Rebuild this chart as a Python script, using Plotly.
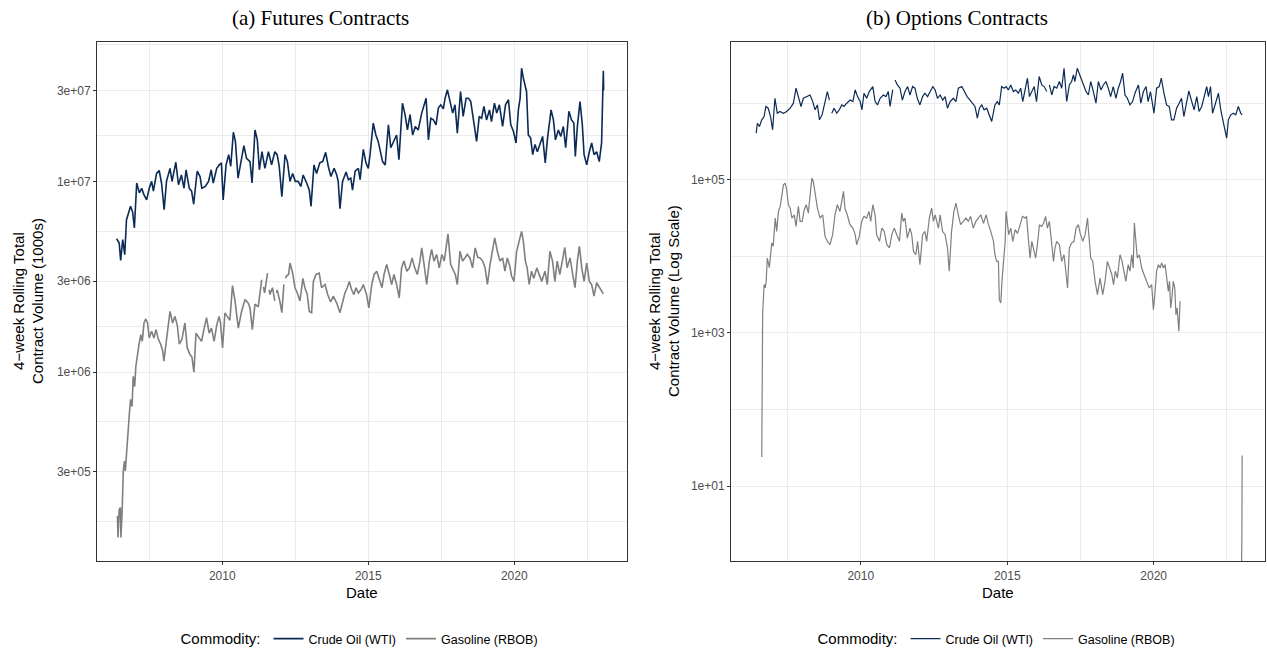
import math
import plotly.graph_objects as go

# ---------------- data: 4-week rolling contract volume ----------------
# (a) futures, crude oil (WTI)
fut_crude_year = [
    2006.38, 2006.47, 2006.52, 2006.59, 2006.66, 2006.72, 2006.86, 2006.93, 2006.99, 2007.07,
    2007.16, 2007.24, 2007.32, 2007.41, 2007.50, 2007.58, 2007.64, 2007.75, 2007.84, 2007.92,
    2008.01, 2008.09, 2008.21, 2008.28, 2008.41, 2008.50, 2008.60, 2008.69, 2008.76, 2008.87,
    2008.95, 2009.02, 2009.14, 2009.24, 2009.30, 2009.42, 2009.53, 2009.62, 2009.69, 2009.81,
    2009.90, 2009.97, 2010.03, 2010.13, 2010.22, 2010.29, 2010.38, 2010.45, 2010.54, 2010.63,
    2010.74, 2010.83, 2010.95, 2011.02, 2011.12, 2011.20, 2011.27, 2011.36, 2011.46, 2011.58,
    2011.69, 2011.80, 2011.88, 2011.95, 2012.04, 2012.15, 2012.23, 2012.32, 2012.41, 2012.50,
    2012.60, 2012.69, 2012.77, 2012.89, 2012.98, 2013.04, 2013.14, 2013.23, 2013.34, 2013.44,
    2013.54, 2013.63, 2013.72, 2013.83, 2013.92, 2013.97, 2014.03, 2014.12, 2014.24, 2014.32,
    2014.40, 2014.46, 2014.55, 2014.66, 2014.72, 2014.83, 2014.92, 2015.00, 2015.06, 2015.17,
    2015.26, 2015.34, 2015.42, 2015.49, 2015.58, 2015.69, 2015.77, 2015.86, 2015.97, 2016.05,
    2016.17, 2016.26, 2016.34, 2016.43, 2016.52, 2016.61, 2016.71, 2016.83, 2016.98, 2017.06,
    2017.14, 2017.23, 2017.32, 2017.40, 2017.48, 2017.57, 2017.63, 2017.71, 2017.80, 2017.89,
    2017.97, 2018.05, 2018.16, 2018.25, 2018.35, 2018.43, 2018.51, 2018.60, 2018.71, 2018.80,
    2018.88, 2018.96, 2019.05, 2019.15, 2019.22, 2019.32, 2019.40, 2019.49, 2019.60, 2019.70,
    2019.80, 2019.88, 2019.97, 2020.06, 2020.14, 2020.20, 2020.25, 2020.31, 2020.37, 2020.42,
    2020.48, 2020.56, 2020.63, 2020.71, 2020.79, 2020.88, 2020.97, 2021.06, 2021.14, 2021.26,
    2021.34, 2021.41, 2021.51, 2021.59, 2021.68, 2021.76, 2021.87, 2021.96, 2022.04, 2022.09,
    2022.16, 2022.25, 2022.33, 2022.39, 2022.48, 2022.57, 2022.65, 2022.73, 2022.82, 2022.91,
    2022.99, 2023.03, 2023.05, 2023.06,
]
fut_crude_vol = [
    5.0e6, 4.75e6, 3.85e6, 4.95e6, 4.13e6, 6.3e6, 7.4e6, 6.9e6, 5.7e6, 9.8e6,
    8.7e6, 9.2e6, 8.5e6, 8.0e6, 9.2e6, 1.0e7, 8.9e6, 1.1e7, 1.14e7, 9.8e6,
    7.1e6, 1.0e7, 1.17e7, 1.0e7, 1.26e7, 9.6e6, 1.08e7, 9.2e6, 1.15e7, 9.2e6,
    8.9e6, 7.6e6, 1.13e7, 1.06e7, 9.2e6, 9.4e6, 1.0e7, 1.15e7, 9.8e6, 1.17e7,
    1.22e7, 1.25e7, 8.0e6, 1.22e7, 1.38e7, 1.2e7, 1.81e7, 1.62e7, 1.04e7, 1.22e7,
    1.54e7, 1.32e7, 1.27e7, 9.8e6, 1.86e7, 1.65e7, 1.15e7, 1.43e7, 1.17e7, 1.43e7,
    1.22e7, 1.43e7, 1.38e7, 1.2e7, 8.3e6, 1.38e7, 1.27e7, 1.0e7, 1.1e7, 1.0e7,
    1.0e7, 9.4e6, 1.08e7, 9.8e6, 9.0e6, 7.4e6, 1.22e7, 1.1e7, 1.25e7, 1.27e7,
    1.42e7, 1.2e7, 1.06e7, 1.17e7, 1.08e7, 1.0e7, 7.2e6, 1.0e7, 1.12e7, 1.02e7,
    1.04e7, 9.0e6, 1.13e7, 1.17e7, 1.02e7, 1.47e7, 1.25e7, 1.17e7, 1.38e7, 2.02e7,
    1.75e7, 1.62e7, 1.4e7, 1.27e7, 1.22e7, 1.98e7, 1.5e7, 1.62e7, 1.75e7, 1.3e7,
    2.57e7, 2.24e7, 1.86e7, 2.24e7, 1.75e7, 1.94e7, 1.86e7, 2.28e7, 2.73e7, 1.65e7,
    2.14e7, 2.1e7, 1.98e7, 2.42e7, 2.52e7, 2.4e7, 2.73e7, 3.02e7, 2.62e7, 2.28e7,
    2.52e7, 1.79e7, 2.96e7, 2.19e7, 2.73e7, 2.73e7, 2.62e7, 2.06e7, 1.62e7, 2.19e7,
    2.14e7, 2.47e7, 2.1e7, 2.37e7, 2.06e7, 2.57e7, 2.28e7, 2.52e7, 1.94e7, 2.52e7,
    2.68e7, 1.98e7, 1.83e7, 1.59e7, 2.37e7, 2.73e7, 3.92e7, 3.48e7, 3.2e7, 2.96e7,
    1.75e7, 1.69e7, 1.38e7, 1.56e7, 1.43e7, 1.56e7, 1.72e7, 1.25e7, 1.69e7, 2.37e7,
    2.1e7, 1.65e7, 1.86e7, 1.72e7, 1.94e7, 1.5e7, 2.33e7, 2.1e7, 2.02e7, 1.35e7,
    1.94e7, 2.62e7, 1.98e7, 1.38e7, 1.22e7, 1.43e7, 1.59e7, 1.38e7, 1.43e7, 1.27e7,
    1.59e7, 2.9e7, 3.8e7, 3.0e7,
]

# (a) futures, gasoline (RBOB); None marks missing weeks
fut_gas_year = [
    2006.41, 2006.43, 2006.47, 2006.51, 2006.53, 2006.57, 2006.61, 2006.65, 2006.68, 2006.75,
    2006.82, 2006.86, 2006.91, 2006.95, 2007.00, 2007.04, 2007.09, 2007.15, 2007.21, 2007.26,
    2007.32, 2007.38, 2007.44, 2007.50, 2007.58, 2007.66, 2007.73, 2007.81, 2007.89, 2007.96,
    2008.00, 2008.09, 2008.21, 2008.30, 2008.38, 2008.46, 2008.53, 2008.62, 2008.72, 2008.80,
    2008.89, 2008.96, 2009.03, 2009.10, 2009.18, 2009.29, 2009.37, 2009.46, 2009.55, 2009.63,
    2009.72, 2009.81, 2009.89, 2009.94, 2010.01, 2010.09, 2010.17, 2010.26, 2010.35, 2010.43,
    2010.55, 2010.66, 2010.78, 2010.89, 2010.95, 2011.03, 2011.12, 2011.23, 2011.35, 2011.38,
    2011.41, 2011.45, 2011.55, 2011.58, 2011.61, 2011.63, 2011.72, 2011.80, 2011.83, 2011.86,
    2011.88, 2011.97, 2012.04, 2012.11, 2012.14, 2012.17, 2012.19, 2012.27, 2012.32, 2012.41,
    2012.49, 2012.57, 2012.66, 2012.76,
    2012.83, 2012.91, 2012.98, 2013.06, 2013.12, 2013.21, 2013.32, 2013.40, 2013.52, 2013.61,
    2013.71, 2013.80, 2013.92, 2014.03, 2014.12, 2014.20, 2014.28, 2014.35, 2014.43, 2014.51,
    2014.58, 2014.66, 2014.75, 2014.83, 2014.94, 2015.02, 2015.12, 2015.20, 2015.29, 2015.38,
    2015.47, 2015.54, 2015.63, 2015.72, 2015.80, 2015.88, 2015.97, 2016.06, 2016.14, 2016.22,
    2016.32, 2016.41, 2016.50, 2016.59, 2016.68, 2016.77, 2016.83, 2016.91, 2017.00, 2017.09,
    2017.17, 2017.25, 2017.34, 2017.43, 2017.52, 2017.60, 2017.68, 2017.73, 2017.82, 2017.91,
    2017.98, 2018.05, 2018.14, 2018.23, 2018.31, 2018.39, 2018.48, 2018.57, 2018.66, 2018.75,
    2018.83, 2018.92, 2019.00, 2019.08, 2019.17, 2019.26, 2019.33, 2019.42, 2019.51, 2019.60,
    2019.68, 2019.76, 2019.83, 2019.91, 2019.99, 2020.08, 2020.17, 2020.25, 2020.31, 2020.38,
    2020.44, 2020.51, 2020.59, 2020.67, 2020.77, 2020.86, 2020.94, 2021.05, 2021.13, 2021.22,
    2021.31, 2021.39, 2021.47, 2021.56, 2021.65, 2021.73, 2021.81, 2021.91, 2022.00, 2022.08,
    2022.16, 2022.23, 2022.31, 2022.39, 2022.48, 2022.57, 2022.65, 2022.73, 2022.82, 2022.91,
    2022.99, 2023.05,
]
fut_gas_vol = [
    1.76e5, 1.36e5, 1.9e5, 1.95e5, 1.36e5, 1.84e5, 3.03e5, 3.42e5, 3.03e5, 4.6e5,
    6.1e5, 7.2e5, 6.6e5, 9.5e5, 8.4e5, 1.07e6, 1.24e6, 1.4e6, 1.57e6, 1.45e6,
    1.81e6, 1.9e6, 1.81e6, 1.51e6, 1.64e6, 1.51e6, 1.67e6, 1.49e6, 1.4e6, 1.29e6,
    1.14e6, 1.51e6, 2.08e6, 1.81e6, 1.96e6, 1.76e6, 1.4e6, 1.49e6, 1.81e6, 1.34e6,
    1.24e6, 1.2e6, 1.0e6, 1.6e6, 1.54e6, 1.45e6, 1.67e6, 1.93e6, 1.6e6, 1.7e6,
    1.45e6, 1.76e6, 1.96e6, 1.81e6, 1.34e6, 2.04e6, 1.96e6, 1.87e6, 2.84e6, 2.4e6,
    1.7e6, 2.08e6, 2.4e6, 2.3e6, 2.17e6, 1.67e6, 2.27e6, 2.2e6, 3.05e6, None,
    2.8e6, 2.6e6, 3.3e6, None, 2.7e6, 2.55e6, 2.77e6, 2.36e6, None, 2.6e6,
    2.7e6, 2.36e6, 2.05e6, 2.88e6, None, 3.1e6, 3.18e6, 3.25e6, 3.73e6, 3.3e6,
    2.77e6, 2.6e6, 2.36e6, 3.1e6,
    2.77e6, 2.55e6, 2.08e6, 2.05e6, 2.99e6, 3.25e6, 3.3e6, 2.77e6, 2.88e6, 2.55e6,
    2.33e6, 2.5e6, 2.3e6, 2.05e6, 2.36e6, 2.6e6, 2.77e6, 2.99e6, 2.7e6, 2.55e6,
    2.77e6, 2.6e6, 2.7e6, 2.88e6, 2.55e6, 2.17e6, 2.88e6, 3.25e6, 3.38e6, 3.1e6,
    2.77e6, 3.25e6, 3.67e6, 3.25e6, 2.88e6, 3.25e6, 2.88e6, 2.45e6, 3.52e6, 3.82e6,
    3.38e6, 3.52e6, 3.97e6, 3.52e6, 3.25e6, 3.82e6, 4.48e6, 3.67e6, 2.88e6, 3.82e6,
    4.4e6, 3.82e6, 4.14e6, 3.52e6, 4.14e6, 3.82e6, 4.86e6, 5.3e6, 3.67e6, 3.38e6,
    3.25e6, 2.88e6, 4.3e6, 3.82e6, 3.97e6, 4.14e6, 3.97e6, 3.52e6, 4.48e6, 4.0e6,
    3.97e6, 3.82e6, 3.52e6, 2.88e6, 3.67e6, 4.48e6, 5.05e6, 4.3e6, 3.82e6, 3.97e6,
    3.38e6, 3.97e6, 3.67e6, 3.18e6, 2.99e6, 4.3e6, 4.86e6, 5.47e6, 4.86e6, 3.82e6,
    3.52e6, 2.88e6, 3.38e6, 3.1e6, 3.52e6, 3.25e6, 2.99e6, 3.38e6, 2.88e6, 4.3e6,
    3.82e6, 2.99e6, 3.82e6, 3.25e6, 3.82e6, 4.5e6, 3.52e6, 3.97e6, 3.25e6, 2.77e6,
    3.82e6, 4.57e6, 3.52e6, 2.99e6, 3.73e6, 2.99e6, 2.88e6, 2.5e6, 2.94e6, 2.77e6,
    2.66e6, 2.57e6,
]

# (b) options, crude oil (WTI)
opt_crude_year = [
    2006.43, 2006.47, 2006.54, 2006.62, 2006.70, 2006.76, 2006.84, 2006.92, 2006.99, 2007.07,
    2007.15, 2007.24, 2007.36, 2007.47, 2007.59, 2007.70, 2007.79, 2007.87, 2007.96, 2008.04,
    2008.16, 2008.27, 2008.36, 2008.44, 2008.52, 2008.59, 2008.68, 2008.78, 2008.86, 2008.93,
    2008.97, 2009.01, 2009.09, 2009.18, 2009.27, 2009.35, 2009.43, 2009.52, 2009.64, 2009.73,
    2009.81, 2009.89, 2009.98, 2010.04, 2010.11, 2010.20, 2010.29, 2010.41, 2010.49, 2010.57,
    2010.66, 2010.77, 2010.86, 2010.94, 2011.00, 2011.09, 2011.13, 2011.17, 2011.25, 2011.34,
    2011.42, 2011.51, 2011.60, 2011.68, 2011.77, 2011.85, 2011.93, 2012.02, 2012.11, 2012.19,
    2012.28, 2012.37, 2012.46, 2012.54, 2012.62, 2012.71, 2012.80, 2012.88, 2012.96, 2013.05,
    2013.16, 2013.25, 2013.33, 2013.45, 2013.53, 2013.63, 2013.73, 2013.82, 2013.90, 2013.98,
    2014.05, 2014.13, 2014.21, 2014.30, 2014.39, 2014.47, 2014.58, 2014.66, 2014.73, 2014.81,
    2014.89, 2014.96, 2015.04, 2015.12, 2015.21, 2015.29, 2015.38, 2015.46, 2015.53, 2015.61,
    2015.69, 2015.76, 2015.83, 2015.92, 2016.00, 2016.09, 2016.18, 2016.26, 2016.35, 2016.40,
    2016.44, 2016.52, 2016.60, 2016.69, 2016.78, 2016.86, 2016.94, 2017.03, 2017.12, 2017.20,
    2017.26, 2017.31, 2017.39, 2017.48, 2017.57, 2017.69, 2017.77, 2017.85, 2017.94, 2018.03,
    2018.11, 2018.20, 2018.28, 2018.37, 2018.45, 2018.53, 2018.62, 2018.71, 2018.79, 2018.87,
    2018.94, 2019.02, 2019.10, 2019.19, 2019.28, 2019.36, 2019.48, 2019.56, 2019.65, 2019.74,
    2019.81, 2019.89, 2020.01, 2020.10, 2020.19, 2020.26, 2020.35, 2020.44, 2020.53, 2020.61,
    2020.69, 2020.78, 2020.87, 2020.95, 2021.03, 2021.12, 2021.20, 2021.30, 2021.38, 2021.47,
    2021.55, 2021.64, 2021.72, 2021.81, 2021.87, 2021.94, 2022.01, 2022.10, 2022.21, 2022.29,
    2022.38, 2022.45, 2022.49, 2022.55, 2022.63, 2022.72, 2022.80, 2022.89, 2022.97, 2023.02,
]
opt_crude_vol = [
    4.06e5, 5.48e5, 4.96e5, 6.07e5, 6.7e5, 9.06e5, 8.6e5, 6.7e5, 4.49e5, 1.16e6,
    7.4e5, 7.8e5, 7.4e5, 7.8e5, 8.6e5, 1.0e6, 1.57e6, 1.22e6, 9.06e5, 1.16e6,
    1.22e6, 1.28e6, 1.05e6, 8.2e5, 9.5e5, 6.07e5, 7.05e5, 1.1e6, 1.42e6, 1.1e6,
    None, 7.4e5, 8.6e5, 7.4e5, 8.2e5, 9.5e5, 9.06e5, 1.0e6, 1.1e6, 1.05e6,
    1.49e6, 1.22e6, 1.05e6, 8.2e5, 1.35e6, 1.16e6, 1.42e6, 1.65e6, 1.05e6, 9.5e5,
    1.16e6, 1.28e6, 1.22e6, 1.42e6, 9.06e5, 1.49e6, None, 2.01e6, 1.73e6, 1.57e6,
    1.1e6, 1.42e6, 1.65e6, 1.28e6, 1.65e6, 1.57e6, 1.16e6, 9.5e5, 1.22e6, 1.35e6,
    1.22e6, 1.42e6, 1.65e6, 1.49e6, 1.16e6, 1.28e6, 1.1e6, 1.22e6, 8.6e5, 1.05e6,
    1.16e6, 1.05e6, 1.57e6, 1.65e6, 1.42e6, 1.22e6, 1.1e6, 1.0e6, 9.06e5, 6.4e5,
    8.6e5, 9.5e5, 8.2e5, 8.6e5, 7.05e5, 5.77e5, 9.5e5, 1.05e6, 9.5e5, 1.65e6,
    1.57e6, 1.65e6, 1.49e6, 1.73e6, 1.42e6, 1.49e6, 1.35e6, 1.57e6, 1.05e6, 1.49e6,
    2.12e6, 1.22e6, 1.42e6, 1.65e6, 1.05e6, 2.23e6, 1.73e6, 1.65e6, 1.42e6, None,
    1.73e6, 1.28e6, 1.65e6, 1.57e6, 1.92e6, 1.57e6, 2.86e6, 1.05e6, 1.73e6, 1.92e6,
    2.34e6, 1.92e6, 2.86e6, 2.34e6, 1.82e6, 1.42e6, 1.28e6, 1.92e6, 1.42e6, 1.0e6,
    1.92e6, 1.49e6, 1.73e6, 1.92e6, 1.57e6, 1.22e6, 1.65e6, 1.16e6, 1.57e6, 1.92e6,
    2.46e6, 1.28e6, 1.16e6, 9.5e5, 1.05e6, 1.35e6, 1.73e6, 1.0e6, 1.42e6, 1.65e6,
    1.05e6, 1.42e6, 7.4e5, 1.57e6, 1.65e6, 2.12e6, 1.35e6, 9.5e5, 9.06e5, 6.07e5,
    6.07e5, 8.6e5, 1.0e6, 1.16e6, 6.7e5, 1.0e6, 1.45e6, 1.05e6, 8.2e5, 1.22e6,
    7.8e5, 9.06e5, 1.22e6, 1.65e6, 1.22e6, 1.65e6, 7.4e5, 1.0e6, 1.35e6, 8.2e5,
    5.48e5, 4.49e5, 3.49e5, 6.07e5, 7.05e5, 7.4e5, 7.05e5, 9.06e5, 7.4e5, 7.05e5,
]

# (b) options, gasoline (RBOB)
opt_gas_year = [
    2006.62, 2006.65, 2006.70, 2006.74, 2006.77, 2006.81, 2006.88, 2006.96, 2007.01, 2007.08,
    2007.13, 2007.19, 2007.25, 2007.30, 2007.36, 2007.42, 2007.47, 2007.53, 2007.59, 2007.65,
    2007.73, 2007.79, 2007.87, 2007.93, 2008.00, 2008.07, 2008.14, 2008.21, 2008.27, 2008.33,
    2008.38, 2008.44, 2008.52, 2008.61, 2008.70, 2008.78, 2008.86, 2008.95, 2009.04, 2009.12,
    2009.20, 2009.29, 2009.35, 2009.41, 2009.46, 2009.54, 2009.63, 2009.73, 2009.81, 2009.86,
    2009.95, 2010.03, 2010.11, 2010.20, 2010.28, 2010.34, 2010.41, 2010.49, 2010.54, 2010.64,
    2010.72, 2010.80, 2010.89, 2010.98, 2011.06, 2011.14, 2011.23, 2011.32, 2011.40, 2011.45,
    2011.51, 2011.59, 2011.68, 2011.74, 2011.80, 2011.88, 2011.94, 2012.02, 2012.11, 2012.19,
    2012.25, 2012.34, 2012.42, 2012.48, 2012.54, 2012.59, 2012.65, 2012.71, 2012.79, 2012.88,
    2012.96, 2013.02, 2013.10, 2013.18, 2013.25, 2013.33, 2013.41, 2013.50, 2013.59, 2013.67,
    2013.75, 2013.84, 2013.93, 2014.01, 2014.10, 2014.19, 2014.28, 2014.36, 2014.44, 2014.53,
    2014.58, 2014.64, 2014.70, 2014.73, 2014.78, 2014.82, 2014.87, 2014.93, 2014.96, 2015.00,
    2015.05, 2015.12, 2015.19, 2015.27, 2015.35, 2015.44, 2015.52, 2015.61, 2015.66, 2015.72,
    2015.78, 2015.84, 2015.89, 2015.97, 2016.03, 2016.10, 2016.18, 2016.24, 2016.31, 2016.37,
    2016.44, 2016.52, 2016.58, 2016.63, 2016.69, 2016.78, 2016.86, 2016.94, 2017.01, 2017.06,
    2017.12, 2017.20, 2017.28, 2017.35, 2017.43, 2017.49, 2017.58, 2017.66, 2017.74, 2017.79,
    2017.85, 2017.92, 2018.00, 2018.08, 2018.17, 2018.26, 2018.34, 2018.42, 2018.49, 2018.57,
    2018.63, 2018.69, 2018.76, 2018.85, 2018.92, 2018.99, 2019.05, 2019.13, 2019.19, 2019.25,
    2019.30, 2019.34, 2019.38, 2019.44, 2019.51, 2019.59, 2019.67, 2019.76, 2019.85, 2019.93,
    2019.99, 2020.04, 2020.10, 2020.16, 2020.22, 2020.27, 2020.33, 2020.39, 2020.44, 2020.50,
    2020.54, 2020.58, 2020.61, 2020.67, 2020.72, 2020.76, 2020.80, 2020.86, 2020.90, 2021.50,
    2023.00, 2023.01, 2023.02,
]
opt_gas_vol = [
    24, 1.73e3, 4.3e3, 3.9e3, 4.7e3, 9.5e3, 7.1e3, 1.49e4, 1.35e4, 3.16e4,
    2.12e4, 3.86e4, 4.49e4, 6.37e4, 8.6e4, 9.06e4, 7.4e4, 4.72e4, 4.27e4, 3.16e4,
    3.49e4, 2.46e4, 4.49e4, 2.86e4, 2.86e4, 4.06e4, 4.72e4, 3.67e4, 7.05e4, 1.05e5,
    9.5e4, 6.37e4, 4.27e4, 3.16e4, 3.49e4, 1.82e4, 1.57e4, 1.42e4, 1.92e4, 3.49e4,
    4.72e4, 3.86e4, 5.21e4, 7.05e4, 4.27e4, 3.49e4, 2.59e4, 2.34e4, 1.92e4, 1.42e4,
    1.82e4, 2.86e4, 3.33e4, 3.16e4, 3.86e4, 2.86e4, 4.72e4, 3.49e4, 1.92e4, 1.57e4,
    2.34e4, 2.12e4, 1.42e4, 1.29e4, 1.92e4, 2.34e4, 1.92e4, 1.57e4, 3.67e4, 2.86e4,
    3.16e4, 1.73e4, 2.34e4, 1.92e4, 1.16e4, 1.05e4, 1.57e4, 7.8e3, 1.92e4, 2.12e4,
    1.57e4, 3.16e4, 4.27e4, 2.86e4, 3.49e4, 2.86e4, 2.34e4, 3.49e4, 2.12e4, 1.92e4,
    1.29e4, 6.4e3, 2.12e4, 3.86e4, 4.97e4, 3.49e4, 2.59e4, 2.86e4, 3.16e4, 2.86e4,
    3.33e4, 2.34e4, 2.86e4, 3.16e4, 3.49e4, 2.7e4, 3.49e4, 2.59e4, 2.12e4, 1.57e4,
    1.05e4, 8.6e3, 8.6e3, 2.72e3, 2.46e3, 4.72e3, 7.8e3, 1.57e4, 3.86e4, 2.86e4,
    1.92e4, 2.34e4, 1.57e4, 2.23e4, 2.0e4, 2.59e4, 3.33e4, 3.16e4, 3.33e4, 1.73e4,
    9.5e3, 1.57e4, 1.29e4, 9.5e3, 1.42e4, 2.59e4, 2.46e4, 2.7e4, 3.33e4, 2.34e4,
    2.86e4, 1.57e4, 8.6e3, 1.29e4, 1.57e4, 1.42e4, 8.6e3, 1.05e4, 5.48e3, 3.86e3,
    1.29e4, 1.49e4, 1.57e4, 2.34e4, 2.59e4, 2.01e4, 1.57e4, 1.92e4, 3.16e4, 1.57e4,
    9.5e3, 8.6e3, 4.72e3, 3.16e3, 5.2e3, 3.16e3, 4.72e3, 8.6e3, 7.05e3, 5.8e3,
    4.27e3, 6.4e3, 5.2e3, 1.05e4, 8.6e3, 6.4e3, 4.72e3, 7.8e3, 6.4e3, 1.05e4,
    7.05e3, 2.72e4, 1.57e4, 9.5e3, 1.05e4, 7.05e3, 5.8e3, 4.72e3, 3.86e3, 4.27e3,
    2.01e3, 3.16e3, 6.4e3, 7.8e3, 7.05e3, 8.2e3, 7.05e3, 7.8e3, 5.8e3, 3.49e3,
    4.72e3, 2.12e3, 2.59e3, 4.72e3, 3.86e3, 1.73e3, 2.12e3, 1.05e3, 2.59e3, None,
    1.0, 2.0, 25,
]

# ---------------- axis settings ----------------
year_ticks = [2010, 2015, 2020]
year_minor = [2007.5, 2012.5, 2017.5, 2022.5]
fut_ticks = [3e5, 1e6, 3e6, 1e7, 3e7]
fut_ticklabels = ["3e+05", "1e+06", "3e+06", "1e+07", "3e+07"]
opt_ticks = [1e1, 1e3, 1e5]
opt_ticklabels = ["1e+01", "1e+03", "1e+05"]
opt_minor = [1e0, 1e2, 1e4, 1e6]

CRUDE = "#0B2A55"
GAS = "#7F7F7F"
SANS = "Liberation Sans, Arial, sans-serif"
SERIF = "Liberation Serif, Times New Roman, serif"
GRID = "#EBEBEB"


def minor_log(ticks, lo, hi):
    # ggplot-style minor breaks: midpoints between majors in log space,
    # extended one step beyond each end, kept inside the visible range
    logs = [math.log10(t) for t in ticks]
    mids = [(a + b) / 2 for a, b in zip(logs, logs[1:])]
    mids = [logs[0] - (logs[1] - logs[0]) / 2] + mids + [logs[-1] + (logs[-1] - logs[-2]) / 2]
    return [10 ** m for m in mids if lo < m < hi]


fig = go.Figure()

fig.add_trace(go.Scatter(x=fut_crude_year, y=fut_crude_vol, mode="lines", name="Crude Oil (WTI)",
                         line=dict(color=CRUDE, width=1.6), xaxis="x", yaxis="y", legend="legend"))
fig.add_trace(go.Scatter(x=fut_gas_year, y=fut_gas_vol, mode="lines", name="Gasoline (RBOB)",
                         line=dict(color=GAS, width=1.6), xaxis="x", yaxis="y", legend="legend"))
fig.add_trace(go.Scatter(x=opt_crude_year, y=opt_crude_vol, mode="lines", name="Crude Oil (WTI)",
                         line=dict(color=CRUDE, width=1.2), xaxis="x2", yaxis="y2", legend="legend2"))
fig.add_trace(go.Scatter(x=opt_gas_year, y=opt_gas_vol, mode="lines", name="Gasoline (RBOB)",
                         line=dict(color=GAS, width=1.2), xaxis="x2", yaxis="y2", legend="legend2"))

W, H = 1267, 654


def px_x(p):
    return p / W


def px_y(p):
    return 1 - p / H


common_x = dict(
    tickvals=year_ticks, ticktext=[str(t) for t in year_ticks],
    showgrid=True, gridcolor=GRID, gridwidth=1.1,
    minor=dict(tickvals=year_minor, showgrid=True, gridcolor=GRID, gridwidth=0.6, ticks=""),
    ticks="outside", ticklen=3, tickcolor="#333333", tickwidth=1,
    tickfont=dict(family=SANS, size=12, color="#4D4D4D"),
    showline=True, mirror=True, linecolor="#333333", linewidth=1,
    zeroline=False, fixedrange=True,
)
common_y = dict(
    type="log", showgrid=True, gridcolor=GRID, gridwidth=1.1,
    ticks="outside", ticklen=3, tickcolor="#333333", tickwidth=1,
    tickfont=dict(family=SANS, size=12, color="#4D4D4D"),
    showline=True, mirror=True, linecolor="#333333", linewidth=1,
    zeroline=False, fixedrange=True,
)

fut_range = [5.009, 7.731]
opt_range = [0.02, 6.80]

legend_common = dict(
    orientation="h", yanchor="middle", xanchor="center", y=px_y(640),
    title=dict(text="Commodity:", side="left", font=dict(family=SANS, size=15, color="black")),
    font=dict(family=SANS, size=12.5, color="black"), bgcolor="rgba(0,0,0,0)",
)

fig.update_layout(
    width=W, height=H,
    margin=dict(l=0, r=0, t=0, b=0),
    paper_bgcolor="white", plot_bgcolor="white",
    xaxis=dict(domain=[px_x(97), px_x(627)], range=[2005.71, 2023.86], anchor="y", **common_x),
    yaxis=dict(domain=[px_y(562), px_y(42)], range=fut_range, anchor="x",
               tickvals=fut_ticks, ticktext=fut_ticklabels,
               minor=dict(tickvals=minor_log(fut_ticks, *fut_range), showgrid=True,
                          gridcolor=GRID, gridwidth=0.6, ticks=""),
               **common_y),
    xaxis2=dict(domain=[px_x(731), px_x(1265)], range=[2005.57, 2023.80], anchor="y2", **common_x),
    yaxis2=dict(domain=[px_y(562), px_y(42)], range=opt_range, anchor="x2",
                tickvals=opt_ticks, ticktext=opt_ticklabels,
                minor=dict(tickvals=opt_minor, showgrid=True, gridcolor=GRID, gridwidth=0.6, ticks=""),
                **common_y),
    legend=dict(x=px_x(361), **legend_common),
    legend2=dict(x=px_x(998), **legend_common),
    showlegend=True,
)

annotations = [
    dict(text="(a) Futures Contracts", x=px_x(320), y=px_y(18), font=dict(family=SERIF, size=21, color="black")),
    dict(text="(b) Options Contracts", x=px_x(957), y=px_y(18), font=dict(family=SERIF, size=21, color="black")),
    dict(text="Date", x=px_x(362), y=px_y(593), font=dict(family=SANS, size=15, color="black")),
    dict(text="Date", x=px_x(998), y=px_y(593), font=dict(family=SANS, size=15, color="black")),
    dict(text="4\u2212week Rolling Total<br>Contract Volume (1000s)", x=px_x(28.5), y=px_y(302), textangle=-90,
         font=dict(family=SANS, size=15, color="black")),
    dict(text="4\u2212week Rolling Total<br>Contract Volume (Log Scale)", x=px_x(664.5), y=px_y(302), textangle=-90,
         font=dict(family=SANS, size=15, color="black")),
]
for a in annotations:
    a.update(xref="paper", yref="paper", showarrow=False, xanchor="center", yanchor="middle")
fig.update_layout(annotations=annotations)

fig.write_html("out.html")
